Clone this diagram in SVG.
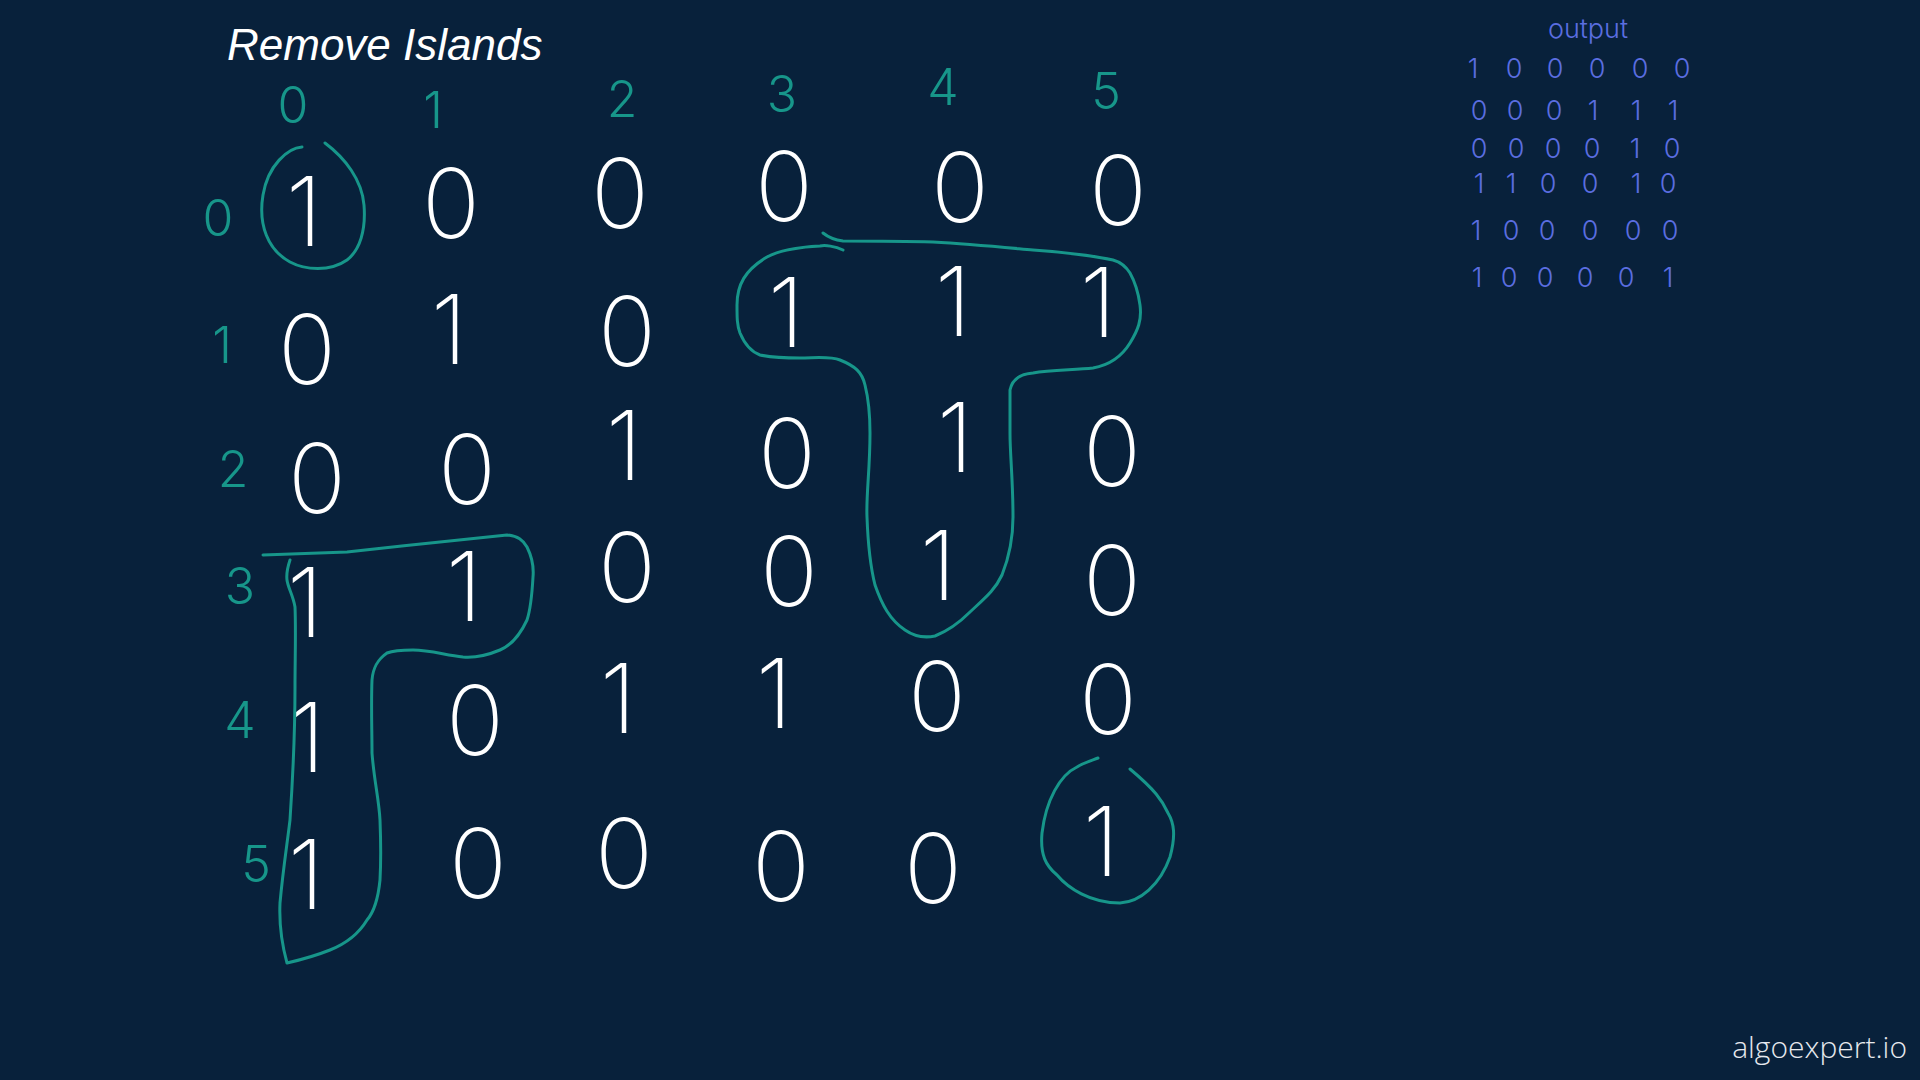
<svg xmlns="http://www.w3.org/2000/svg" width="1920" height="1080" viewBox="0 0 1920 1080">
<style>
.g{font-family:Inter,Lato,sans-serif;font-weight:200;font-size:96px;fill:#ffffff;text-anchor:middle}
.lb{font-family:Inter,Lato,sans-serif;font-weight:300;font-size:50px;fill:#17968a;text-anchor:middle}
.o{font-family:Inter,Lato,sans-serif;font-weight:300;font-size:27px;fill:#5b6ee0;text-anchor:middle}
.isl{fill:none;stroke:#17968a;stroke-width:3;stroke-linecap:round;stroke-linejoin:round}
</style>
<rect width="1920" height="1080" fill="#08213b"/>
<text x="227" y="60" font-family="Liberation Sans, Arial, sans-serif" font-style="italic" font-size="44" fill="#ffffff">Remove Islands</text>
<g id="col-labels">
<text class="lb" x="293" y="123">0</text>
<text class="lb" x="433" y="128">1</text>
<text class="lb" x="622" y="117">2</text>
<text class="lb" x="782" y="112">3</text>
<text class="lb" x="943" y="105">4</text>
<text class="lb" x="1106" y="109">5</text>
</g>
<g id="row-labels">
<text class="lb" x="218" y="236" font-size="60">0</text>
<text class="lb" x="222" y="363">1</text>
<text class="lb" x="233" y="487">2</text>
<text class="lb" x="240" y="604">3</text>
<text class="lb" x="240" y="738">4</text>
<text class="lb" x="256" y="882">5</text>
</g>
<g id="grid">
<text class="g" x="304" y="246">1</text>
<text class="g" x="451" y="238">0</text>
<text class="g" x="620" y="228">0</text>
<text class="g" x="784" y="221">0</text>
<text class="g" x="960" y="222">0</text>
<text class="g" x="1118" y="225">0</text>

<text class="g" x="307" y="384">0</text>
<text class="g" x="449" y="364">1</text>
<text class="g" x="627" y="366">0</text>
<text class="g" x="786" y="347">1</text>
<text class="g" x="953" y="336">1</text>
<text class="g" x="1098" y="337">1</text>

<text class="g" x="317" y="513">0</text>
<text class="g" x="467" y="504">0</text>
<text class="g" x="624" y="480">1</text>
<text class="g" x="787" y="488">0</text>
<text class="g" x="955" y="472">1</text>
<text class="g" x="1112" y="486">0</text>

<text class="g" x="305" y="637">1</text>
<text class="g" x="464" y="621">1</text>
<text class="g" x="627" y="602">0</text>
<text class="g" x="789" y="606">0</text>
<text class="g" x="938" y="600">1</text>
<text class="g" x="1112" y="615">0</text>

<text class="g" x="307" y="772">1</text>
<text class="g" x="475" y="755">0</text>
<text class="g" x="618" y="733">1</text>
<text class="g" x="774" y="728">1</text>
<text class="g" x="937" y="731">0</text>
<text class="g" x="1108" y="734">0</text>

<text class="g" x="306" y="909">1</text>
<text class="g" x="478" y="898">0</text>
<text class="g" x="624" y="888">0</text>
<text class="g" x="781" y="901">0</text>
<text class="g" x="933" y="903">0</text>
<text class="g" x="1101" y="876">1</text>
</g>
<g id="islands">
<path id="island-00" class="isl" d="M302,147 C288,148 268,165 263,195 C258,225 268,250 290,262 C305,270 330,272 347,260 C360,250 366,230 364,205 C362,180 345,158 325,143"/>
<path id="island-55" class="isl" d="M1098,758 C1090,761 1083,763 1077,767 C1060,775 1046,800 1042,833 C1040,855 1046,866 1057,875 C1068,888 1090,903 1120,903 C1140,902 1160,885 1170,857 C1176,835 1174,823 1168,813 C1162,800 1155,790 1130,769"/>
<path id="island-T" class="isl" d="M843,250 C835,246 825,245 820,246 C800,247 780,250 767,257 C745,270 737,285 737,305 C737,318 737,325 740,333 C745,345 752,352 760,355 C775,358 790,358 800,358 C815,358 830,356 840,360 C855,366 862,372 865,385 C870,405 870,420 870,433 C870,470 866,495 867,517 C868,545 870,565 875,585 C882,605 890,620 905,630 C915,637 925,638 935,636 C950,630 960,622 970,612 C985,598 995,590 1002,575 C1010,555 1013,535 1013,517 C1013,480 1010,455 1010,433 C1010,415 1010,400 1010,390 C1012,380 1020,374 1033,373 C1050,370 1075,370 1093,368 C1110,365 1122,356 1130,343 C1138,330 1142,320 1140,305 C1138,290 1135,282 1130,273 C1125,265 1120,262 1113,260 C1090,255 1060,252 1033,250 C1000,247 970,244 933,242 C900,241 870,241 843,241 C835,240 828,237 823,233"/>
<path id="island-L" class="isl" d="M263,555 C290,554 320,553 347,552 C400,546 460,540 507,535 C518,536 523,540 527,547 C532,557 534,566 533,577 C532,595 531,608 527,620 C520,635 512,645 500,650 C488,655 475,658 463,657 C445,655 430,650 413,650 C400,650 392,651 387,653 C377,660 373,668 372,680 C371,705 372,730 372,753 C374,780 379,800 380,820 C381,845 381,862 380,880 C378,900 374,912 367,920 C358,935 345,944 330,950 C315,956 300,960 287,963 C282,945 279,925 280,903 C283,870 287,845 290,820 C293,775 295,730 295,687 C295,660 296,630 295,607 C293,595 288,588 287,580 C286,572 288,566 290,560"/>
</g>
<g id="output">
<text class="o" x="1588" y="38" font-size="25">output</text>
<g class="o">
<text x="1473" y="78">1</text><text x="1514" y="78">0</text><text x="1555" y="78">0</text><text x="1597" y="78">0</text><text x="1640" y="78">0</text><text x="1682" y="78">0</text>
<text x="1479" y="120">0</text><text x="1515" y="120">0</text><text x="1554" y="120">0</text><text x="1593" y="120">1</text><text x="1636" y="120">1</text><text x="1673" y="120">1</text>
<text x="1479" y="158">0</text><text x="1516" y="158">0</text><text x="1553" y="158">0</text><text x="1592" y="158">0</text><text x="1635" y="158">1</text><text x="1672" y="158">0</text>
<text x="1479" y="193">1</text><text x="1511" y="193">1</text><text x="1548" y="193">0</text><text x="1590" y="193">0</text><text x="1636" y="193">1</text><text x="1668" y="193">0</text>
<text x="1476" y="240">1</text><text x="1511" y="240">0</text><text x="1547" y="240">0</text><text x="1590" y="240">0</text><text x="1633" y="240">0</text><text x="1670" y="240">0</text>
<text x="1477" y="287">1</text><text x="1509" y="287">0</text><text x="1545" y="287">0</text><text x="1585" y="287">0</text><text x="1626" y="287">0</text><text x="1668" y="287">1</text>
</g>
</g>
<text x="1907" y="1058" text-anchor="end" font-family="'Open Sans', Lato, sans-serif" font-weight="300" font-size="30" fill="#e6e9ee">algoexpert.io</text>
</svg>
